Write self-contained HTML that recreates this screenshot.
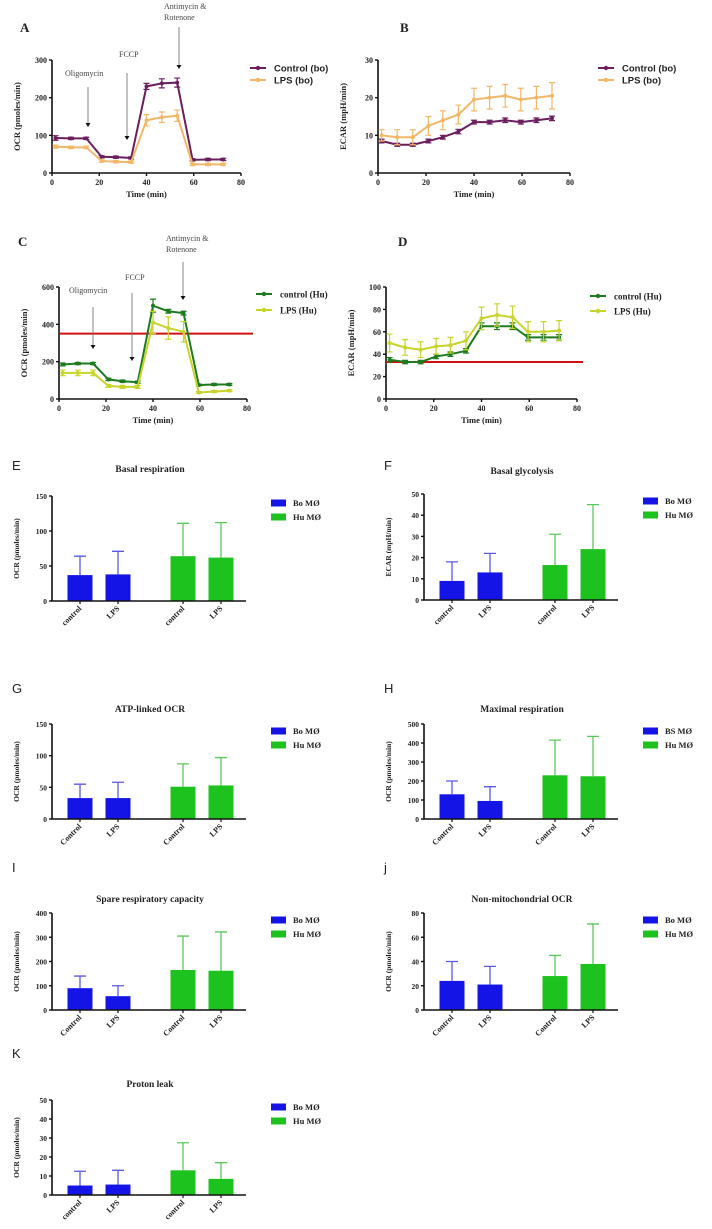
<!DOCTYPE html>
<html><head><meta charset="utf-8">
<style>
html,body{margin:0;padding:0;background:#fff;}
svg{display:block;}
text{font-family:"Liberation Serif",serif;font-weight:bold;fill:#222;}
.sans{font-family:"Liberation Sans",sans-serif;}
</style></head>
<body>
<svg id="fig" width="712" height="1229" viewBox="0 0 712 1229" xmlns="http://www.w3.org/2000/svg"></svg>
<script>
// ---- line chart data ----
const timePoints=[1.5,8,14.5,21,27,33.5,40,46.5,53,59.5,66,72.5];
const ocrBoControl=[93,92,92,43,42,40,230,238,240,35,36,36];
const ocrBoControlErr=[6,3,3,3,3,3,8,12,12,3,3,3];
const ocrBoLPS=[70,68,68,32,30,29,140,148,152,23,23,23];
const ocrBoLPSErr=[4,3,3,3,3,3,15,14,15,3,3,3];
const ecarBoControl=[8.5,7.5,7.5,8.5,9.5,11,13.5,13.5,14,13.5,14,14.5];
const ecarBoControlErr=[0.5,0.4,0.4,0.5,0.5,0.6,0.5,0.5,0.6,0.5,0.6,0.6];
const ecarBoLPS=[10,9.5,9.5,12.5,14,15.5,19.5,20,20.5,19.5,20,20.5];
const ecarBoLPSErr=[1.5,2,2,2.5,2.5,2.5,3,3,3,3,3,3.5];
const ocrHuControl=[185,190,190,105,95,90,500,470,460,75,78,78];
const ocrHuControlErr=[8,6,6,6,6,6,35,10,10,5,5,5];
const ocrHuLPS=[140,140,140,70,65,65,410,380,360,35,40,45];
const ocrHuLPSErr=[15,15,15,8,8,8,60,60,55,5,5,5];
const ecarHuControl=[35,33,33,38,40,43,65,65,65,55,55,55];
const ecarHuControlErr=[2,1.5,1.5,2,2,2,3,3,3,2.5,2.5,2.5];
const ecarHuLPS=[50,46,44,47,48,52,72,75,73,60,60,61];
const ecarHuLPSErr=[8,7,7,7,7,8,10,10,10,9,9,9];
// ---- bar chart data ----
const barCategories=["control","LPS","control","LPS"];
const basalResp=[37,38,64,62], basalRespErr=[27,33,47,50];
const basalGly=[9,13,16.5,24], basalGlyErr=[9,9,14.5,21];
const atpOcr=[33,33,51,53], atpOcrErr=[22,25,36,44];
const maxResp=[130,95,230,225], maxRespErr=[70,75,185,210];
const spareCap=[90,57,165,162], spareCapErr=[50,43,140,160];
const nonMito=[24,21,28,38], nonMitoErr=[16,15,17,33];
const protonLeak=[5,5.5,13,8.5], protonLeakErr=[7.5,7.5,14.5,8.5];

const NS="http://www.w3.org/2000/svg";
const svg=document.getElementById('fig');
function mk(tag,attrs,parent,txt){const e=document.createElementNS(NS,tag);for(const k in attrs)e.setAttribute(k,attrs[k]);if(txt!==undefined)e.textContent=txt;(parent||svg).appendChild(e);return e;}

function lineChart(o){
  const g=mk('g',{});
  
  
  const sx=v=>o.x0+(v/80)*(o.x1-o.x0);
  const sy=v=>o.y0-(v/o.ymax)*(o.y0-o.ytop);
  const t=mk('text',{x:o.lx,y:o.ly,'font-size':13},g,o.letter);
  
  const ax=mk('path',{d:`M${o.x0},${o.ytop}V${o.y0}H${o.x1}`,stroke:'#111','stroke-width':1.6,fill:'none'},g);
  
  for(let v=0;v<=o.ymax;v+=o.ystep){
    mk('line',{x1:o.x0-3,x2:o.x0,y1:sy(v),y2:sy(v),stroke:'#111','stroke-width':1.4},g);
    const tl=mk('text',{x:o.x0-5,y:sy(v)+3,'font-size':8,'text-anchor':'end'},g,v);
    
  }
  for(let v=0;v<=80;v+=20){
    mk('line',{x1:sx(v),x2:sx(v),y1:o.y0,y2:o.y0+3,stroke:'#111','stroke-width':1.4},g);
    const tl=mk('text',{x:sx(v),y:o.y0+12,'font-size':8,'text-anchor':'middle'},g,v);
    
  }
  const xl=mk('text',{x:(o.x0+o.x1)/2,y:o.y0+24,'font-size':8.5,'text-anchor':'middle'},g,'Time (min)');
  
  const cy=(o.ytop+o.y0)/2;
  const yl=mk('text',{x:o.x0-32,y:cy,'font-size':8.5,'text-anchor':'middle',transform:`rotate(-90 ${o.x0-32} ${cy})`},g,o.ylabel);
  
  if(o.red!==undefined){
    const r=mk('line',{x1:o.x0,x2:o.x1+6,y1:sy(o.red),y2:sy(o.red),stroke:'#d01010','stroke-width':2},g);
    
  }
  o.series.forEach((s,si)=>{
    const sg=mk('g',{},g);
    
    timePoints.forEach((tp,i)=>{
      const x=sx(tp),v=s.vals[i],e=s.err[i];
      mk('path',{d:`M${x},${sy(v-e)}V${sy(v+e)}M${x-3},${sy(v+e)}H${x+3}M${x-3},${sy(v-e)}H${x+3}`,stroke:s.color,'stroke-width':1.2,fill:'none'},sg);
    });
    const pl=mk('polyline',{points:timePoints.map((tp,i)=>sx(tp)+','+sy(s.vals[i])).join(' '),fill:'none',stroke:s.color,'stroke-width':2},sg);
    
    timePoints.forEach((tp,i)=>{
      const p=mk('circle',{cx:sx(tp),cy:sy(s.vals[i]),r:2,fill:s.color},sg);
      
    });
    const ly=o.legY+si*o.legDy;
    const le=mk('g',{},g);
    
    mk('line',{x1:o.legX,x2:o.legX+16,y1:ly,y2:ly,stroke:s.color,'stroke-width':2},le);
    mk('circle',{cx:o.legX+8,cy:ly,r:2.2,fill:s.color},le);
    mk('text',{x:o.legX+24,y:ly+3.5,'font-size':o.legSans?9.5:9,class:o.legSans?'sans':''},le,s.label);
  });
  (o.annots||[]).forEach(a=>{
    const ag=mk('g',{},g);
    
    a.lines.forEach((ln,i)=>mk('text',{x:a.tx,y:a.ty+i*11,'font-size':8,style:'font-weight:normal;fill:#444'},ag,ln));
    mk('line',{x1:a.ax,x2:a.ax,y1:a.ay0,y2:a.ay1-3,stroke:'#777','stroke-width':0.9},ag);
    mk('path',{d:`M${a.ax-2.5},${a.ay1-4}L${a.ax+2.5},${a.ay1-4}L${a.ax},${a.ay1}Z`,fill:'#111'},ag);
  });
}

lineChart({name:'panel-a-ocr-bo',letter:'A',lx:20,ly:32,x0:52,x1:241,y0:173,ytop:60,ymax:300,ystep:100,ylabel:'OCR (pmoles/min)',
  series:[{key:'control-bo',label:'Control (bo)',vals:ocrBoControl,err:ocrBoControlErr,color:'#6b1f5e'},{key:'lps-bo',label:'LPS (bo)',vals:ocrBoLPS,err:ocrBoLPSErr,color:'#f2b86a'}],
  legX:250,legY:68,legDy:12,legSans:true,
  annots:[{lines:['Oligomycin'],tx:65,ty:76,ax:88,ay0:87,ay1:127},{lines:['FCCP'],tx:119,ty:57,ax:127,ay0:73,ay1:140},{lines:['Antimycin &','Rotenone'],tx:164,ty:9,ax:179,ay0:27,ay1:69}]});
lineChart({name:'panel-b-ecar-bo',letter:'B',lx:400,ly:32,x0:378,x1:570,y0:173,ytop:60,ymax:30,ystep:10,ylabel:'ECAR (mpH/min)',
  series:[{key:'control-bo',label:'Control (bo)',vals:ecarBoControl,err:ecarBoControlErr,color:'#6b1f5e'},{key:'lps-bo',label:'LPS (bo)',vals:ecarBoLPS,err:ecarBoLPSErr,color:'#f2b86a'}],
  legX:598,legY:68,legDy:12,legSans:true});
lineChart({name:'panel-c-ocr-hu',letter:'C',lx:18,ly:246,x0:59,x1:247,y0:399,ytop:287,ymax:600,ystep:200,ylabel:'OCR (pmoles/min)',red:350,
  series:[{key:'control-hu',label:'control (Hu)',vals:ocrHuControl,err:ocrHuControlErr,color:'#1e7a1e'},{key:'lps-hu',label:'LPS (Hu)',vals:ocrHuLPS,err:ocrHuLPSErr,color:'#c8d42a'}],
  legX:256,legY:294,legDy:16,legSans:false,
  annots:[{lines:['Oligomycin'],tx:69,ty:293,ax:93,ay0:307,ay1:349},{lines:['FCCP'],tx:125,ty:280,ax:132,ay0:293,ay1:361},{lines:['Antimycin &','Rotenone'],tx:166,ty:241,ax:183,ay0:262,ay1:300}]});
lineChart({name:'panel-d-ecar-hu',letter:'D',lx:398,ly:246,x0:386,x1:577,y0:399,ytop:287,ymax:100,ystep:20,ylabel:'ECAR (mpH/min)',red:33,
  series:[{key:'control-hu',label:'control (Hu)',vals:ecarHuControl,err:ecarHuControlErr,color:'#1e7a1e'},{key:'lps-hu',label:'LPS (Hu)',vals:ecarHuLPS,err:ecarHuLPSErr,color:'#c8d42a'}],
  legX:590,legY:296,legDy:15,legSans:false});

function barChart(o){
  const g=mk('g',{});
  
  
  const x0=o.ox+52,x1=o.ox+246;
  const sy=v=>o.y0-(v/o.ymax)*(o.y0-o.ytop);
  const centers=[o.ox+80,o.ox+118,o.ox+183,o.ox+221];
  const lt=mk('text',{x:o.ox+12,y:o.ly,'font-size':13,class:'sans',style:'font-weight:normal'},g,o.letter);
  
  const tt=mk('text',{x:o.ox+150,y:o.ty,'font-size':9.5,'text-anchor':'middle'},g,o.title);
  
  for(let v=0;v<=o.ymax;v+=o.ystep){
    mk('line',{x1:x0-3,x2:x0,y1:sy(v),y2:sy(v),stroke:'#111','stroke-width':1.4},g);
    const tl=mk('text',{x:x0-5,y:sy(v)+3,'font-size':7.5,'text-anchor':'end'},g,v);
    
  }
  const cy=(o.ytop+o.y0)/2;
  const yl=mk('text',{x:o.ox+19,y:cy,'font-size':7.5,'text-anchor':'middle',transform:`rotate(-90 ${o.ox+19} ${cy})`},g,o.ylabel);
  
  o.vals.forEach((v,i)=>{
    const hu=i>=2, fill=hu?'#1ec21e':'#1414e6', ec=hu?'#5cc85c':'#5a5ae6';
    const x=centers[i];
    const b=mk('rect',{x:x-12.5,y:sy(v),width:25,height:o.y0-sy(v),fill:fill},g);
    
    
    const top=v+o.err[i];
    const eb=mk('path',{d:`M${x},${sy(v)}V${sy(top)}M${x-6},${sy(top)}H${x+6}`,stroke:ec,'stroke-width':1.3,fill:'none'},g);
    
    mk('line',{x1:x,x2:x,y1:o.y0,y2:o.y0+3,stroke:'#111','stroke-width':1.2},g);
    const lab=o.cap?barCategories[i].replace(/^c/,'C'):barCategories[i];
    const xl=mk('text',{x:x+2,y:o.y0+8,'font-size':8,'text-anchor':'end',transform:`rotate(-45 ${x+2} ${o.y0+8})`},g,lab);
    
  });
  const ax=mk('path',{d:`M${x0},${o.ytop}V${o.y0}H${x1}`,stroke:'#111','stroke-width':1.6,fill:'none'},g);
  
  [[o.boLabel||'Bo MØ','#1414e6'],['Hu MØ','#1ec21e']].forEach((l,i)=>{
    const le=mk('g',{},g);
    
    const ly=o.ytop+7+i*14;
    mk('rect',{x:o.ox+271,y:ly-3.5,width:15,height:7,fill:l[1]},le);
    mk('text',{x:o.ox+293,y:ly+3,'font-size':8.5},le,l[0]);
  });
}
barChart({name:'panel-e-basal-respiration',letter:'E',ox:0,ly:470,ty:472,title:'Basal respiration',ytop:496,y0:601,ymax:150,ystep:50,ylabel:'OCR (pmoles/min)',vals:basalResp,err:basalRespErr});
barChart({name:'panel-f-basal-glycolysis',letter:'F',ox:372,ly:470,ty:474,title:'Basal glycolysis',ytop:494,y0:600,ymax:50,ystep:10,ylabel:'ECAR (mpH/min)',vals:basalGly,err:basalGlyErr});
barChart({name:'panel-g-atp-linked-ocr',letter:'G',ox:0,ly:693,ty:712,title:'ATP-linked OCR',ytop:724,y0:819,ymax:150,ystep:50,ylabel:'OCR (pmoles/min)',vals:atpOcr,err:atpOcrErr,cap:true});
barChart({name:'panel-h-maximal-respiration',letter:'H',ox:372,ly:693,ty:712,title:'Maximal respiration',ytop:724,y0:819,ymax:500,ystep:100,ylabel:'OCR (pmoles/min)',vals:maxResp,err:maxRespErr,cap:true,boLabel:'BS MØ'});
barChart({name:'panel-i-spare-capacity',letter:'I',ox:0,ly:872,ty:902,title:'Spare respiratory capacity',ytop:913,y0:1010,ymax:400,ystep:100,ylabel:'OCR (pmoles/min)',vals:spareCap,err:spareCapErr,cap:true});
barChart({name:'panel-j-non-mito-ocr',letter:'j',ox:372,ly:872,ty:902,title:'Non-mitochondrial OCR',ytop:913,y0:1010,ymax:80,ystep:20,ylabel:'OCR (pmoles/min)',vals:nonMito,err:nonMitoErr,cap:true});
barChart({name:'panel-k-proton-leak',letter:'K',ox:0,ly:1058,ty:1087,title:'Proton leak',ytop:1100,y0:1195,ymax:50,ystep:10,ylabel:'OCR (pmoles/min)',vals:protonLeak,err:protonLeakErr});
</script>
</body></html>
